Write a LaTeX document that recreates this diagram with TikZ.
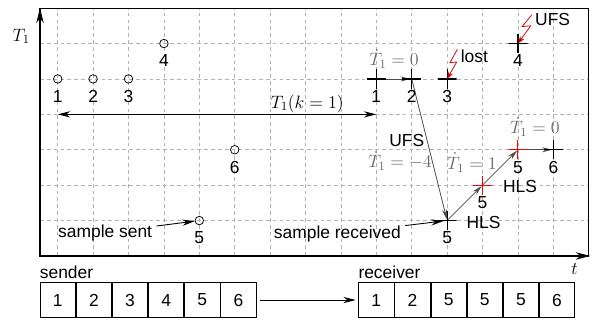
\documentclass[tikz,border=0pt]{standalone}
\usepackage[no-math]{fontspec}
\setmainfont{Liberation Sans}
\usetikzlibrary{arrows.meta, positioning, calc}
\pgfdeclarelayer{bg}
\pgfsetlayers{bg,main}

\begin{document}
\begin{tikzpicture}[
    font=\fontsize{14}{16}\selectfont,
    grd/.style={gray!60, dash pattern=on 3pt off 2.5pt, line width=0.5pt},
    axis/.style={-{Stealth[length=12pt, width=6pt]}, line width=0.9pt},
    arr/.style={-{Stealth[length=10pt, width=5pt]}, line width=0.7pt},
    darr/.style={arr, {Stealth[length=10pt, width=5pt]}-{Stealth[length=10pt, width=5pt]}},
    flow/.style={-{Stealth[length=8pt, width=4pt]}, black!70, line width=0.6pt, shorten >=1pt},
    bolt/.style={-{Stealth[length=6pt, width=4pt]}, red!80!black, line width=0.6pt},
    num/.style={inner sep=1pt},
    note/.style={black!60, inner sep=1pt},
    smp/.style={circle, draw, line width=0.6pt, minimum size=0.24cm, inner sep=0,
        label={[num, label distance=4pt]below:#1}},
    cross/.style={minimum size=0.54cm, inner sep=0,
        path picture={\draw[#1]
            (path picture bounding box.north) -- (path picture bounding box.south)
            (path picture bounding box.west) -- (path picture bounding box.east);}},
    mk/.style={cross={line width=0.9pt, black}, label={[num, label distance=0pt]below:#1}},
    mkr/.style={cross={line width=0.8pt, red}, label={[num, label distance=0pt]below:#1}},
    box/.style={rectangle, draw, line width=0.6pt, minimum width=1cm, minimum height=0.99cm, inner sep=0}
]
    \useasboundingbox (-0.63,-1.81) rectangle (16.205,7.23);

    % grid and frame
    \begin{pgfonlayer}{bg}
    \foreach \x in {1,...,15}
        \draw[grd] (\x,0) -- (\x,7);
    \foreach \y in {1,...,6}
        \draw[grd] (0.5,\y) -- (16,\y);
    \end{pgfonlayer}
    \coordinate (o) at (0.5,0);
    \coordinate (ytip) at (0.5,7);
    \coordinate (xtip) at (16.05,0);
    \draw[line width=0.9pt] (o) rectangle (16,7);
    \draw[axis] (o) -- (ytip);
    \draw[axis] (o) -- (xtip);
    \node (tl) at (-0.03,6.2) {$T_1$};
    \node (tt) at (15.6,-0.37) {$t$};

    % sent samples
    \node[smp=1] (s1) at (1,5) {};
    \node[smp=2] (s2) at (2,5) {};
    \node[smp=3] (s3) at (3,5) {};
    \node[smp=4] (s4) at (4,6) {};
    \node[smp=5] (s5) at (5,1) {};
    \node[smp=6] (s6) at (6,3) {};

    % received samples
    \node[mk=1] (r1) at (10,5) {};
    \node[mk=2] (r2) at (11,5) {};
    \node[mk=3] (r3) at (12,5) {};
    \node[mk=4] (r4) at (14,6) {};
    \node[mk=5] (r5a) at (12,1) {};
    \node[mkr=5] (r5b) at (13,2) {};
    \node[mkr=5] (r5c) at (14,3) {};
    \node[mk=6] (r6) at (15,3) {};

    \begin{pgfonlayer}{bg}
    \draw[flow] (r1.center) -- (r2.center);
    \draw[flow] (r2.center) -- (r5a.center);
    \draw[flow] (r5a.center) -- (r5b.center);
    \draw[flow] (r5b.center) -- (r5c.center);
    \draw[flow] (r5c.center) -- (r6.center);
    \end{pgfonlayer}

    \node[note] (d1) at (10.5,5.56) {$\dot T_1 = 0$};
    \node[note] (d2) at (10.67,2.68) {$\dot T_1 = -4$};
    \node[note] (d3) at (12.7,2.64) {$\dot T_1 = 1$};
    \node[note] (d4) at (14.48,3.64) {$\dot T_1 = 0$};
    \node (ufs2) at (10.86,3.27) {UFS};
    \node (hls1) at (13.03,0.95) {HLS};
    \node (hls2) at (14.06,1.97) {HLS};

    % lost and late samples
    \node (lost) at (12.77,5.64) {lost};
    \node (ufs1) at (14.98,6.67) {UFS};
    \draw[bolt] (r3) ++(0.29,0.84) -- ++(-0.21,-0.38) -- ++(0.19,0.02) -- (r3.center);
    \draw[bolt] (r4) ++(0.39,0.81) -- ++(-0.27,-0.33) -- ++(0.24,0.02) -- (r4.center);

    % sampling period
    \coordinate (ka) at (1,4);
    \coordinate (kb) at (10,4);
    \draw[darr] (ka) -- node[pos=0.783, above, inner sep=1pt] (klbl) {$T_1(k=1)$} (kb);

    \node (sent) at (2.34,0.66) {sample sent};
    \node (rcvd) at (8.9,0.63) {sample received};
    \draw[arr] (sent) -- (s5);
    \draw[arr, shorten >=3pt] (rcvd) -- (r5a.center);

    % buffers
    \node[box] (sb1) at (1,-1.245) {1};
    \node[box, right=0cm of sb1] (sb2) {2};
    \node[box, right=0cm of sb2] (sb3) {3};
    \node[box, right=0cm of sb3] (sb4) {4};
    \node[box, right=0cm of sb4] (sb5) {5};
    \node[box, right=0cm of sb5] (sb6) {6};
    \node[box] (rb1) at (10,-1.245) {1};
    \node[box, right=0cm of rb1] (rb2) {2};
    \node[box, right=0cm of rb2] (rb3) {5};
    \node[box, right=0cm of rb3] (rb4) {5};
    \node[box, right=0cm of rb4] (rb5) {5};
    \node[box, right=0cm of rb5] (rb6) {6};
    \node[inner sep=0, above right=0.09cm and 0cm of sb1.north west] (sndr) {sender};
    \node[inner sep=0, above right=0.09cm and 0cm of rb1.north west] (rcvr) {receiver};
    \draw[arr, shorten <=3pt, shorten >=2pt] (sb6) -- (rb1);
\end{tikzpicture}
\end{document}
